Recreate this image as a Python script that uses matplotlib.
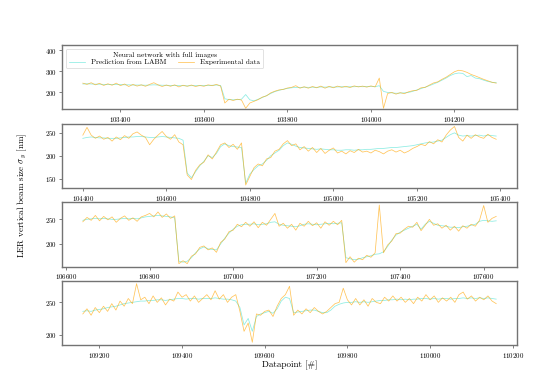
import numpy as np
from matplotlib import pyplot as plt
from matplotlib.ticker import MultipleLocator


# First datapoint of each run, one sample every 10 datapoints
start_points = [103310, 104400, 106640, 109160]
step = 10

# Run 1
pred_1 = [240, 241, 240, 239, 239, 238, 238, 237, 238, 237,
		236, 236, 235, 235, 235, 234, 235, 236, 235, 234,
		234, 233, 233, 232, 232, 231, 232, 232, 232, 233,
		233, 234, 235, 233, 170, 166, 165, 166, 168, 190,
		165, 160, 168, 176, 185, 195, 204, 210, 215, 219,
		222, 224, 223, 225, 224, 225, 224, 226, 225, 226,
		225, 226, 227, 226, 227, 227, 228, 227, 228, 228,
		227, 232, 205, 200, 198, 196, 197, 198, 200, 205,
		212, 218, 225, 232, 240, 248, 258, 268, 280, 288,
		292, 290, 275, 280, 268, 265, 258, 252, 248, 246]
exp_1 = [244, 238, 246, 236, 243, 233, 241, 234, 244, 232,
		240, 228, 238, 230, 236, 229, 238, 246, 236, 228,
		235, 229, 236, 226, 234, 229, 235, 228, 233, 229,
		236, 232, 238, 230, 150, 168, 162, 168, 164, 125,
		150, 158, 166, 178, 184, 198, 206, 212, 214, 221,
		224, 232, 220, 227, 220, 228, 222, 230, 220, 229,
		222, 230, 224, 229, 223, 231, 226, 230, 225, 231,
		226, 268, 125, 195, 200, 192, 199, 194, 203, 208,
		210, 222, 224, 235, 245, 250, 262, 272, 285, 298,
		305, 302, 295, 285, 278, 270, 262, 255, 248, 244]

# Run 2
pred_2 = [238, 240, 241, 240, 239, 239, 238, 238, 238, 239,
		240, 241, 241, 242, 242, 241, 240, 240, 241, 242,
		241, 240, 239, 238, 234, 162, 152, 165, 178, 188,
		200, 196, 205, 220, 226, 222, 220, 219, 218, 140,
		160, 170, 178, 182, 190, 200, 206, 212, 222, 228,
		225, 221, 218, 217, 216, 215, 214, 215, 214, 213,
		213, 212, 212, 213, 213, 212, 213, 213, 214, 214,
		215, 216, 216, 217, 218, 218, 219, 220, 221, 222,
		224, 226, 228, 229, 230, 232, 234, 240, 246, 250,
		245, 243, 244, 243, 244, 245, 243, 245, 244, 243]
exp_2 = [245, 262, 245, 238, 243, 236, 240, 232, 241, 235,
		244, 238, 248, 252, 245, 240, 224, 236, 245, 253,
		242, 236, 246, 230, 224, 158, 148, 168, 180, 186,
		202, 193, 208, 224, 228, 218, 225, 214, 228, 136,
		155, 174, 182, 178, 193, 196, 210, 214, 226, 233,
		222, 226, 213, 220, 210, 218, 207, 216, 205, 212,
		217, 206, 210, 204, 211, 207, 214, 208, 210, 206,
		212, 209, 204, 210, 213, 208, 212, 206, 210, 216,
		220, 225, 222, 231, 226, 235, 230, 245, 256, 264,
		240, 232, 245, 238, 246, 241, 238, 247, 240, 236]

# Run 3
pred_3 = [248, 250, 251, 252, 251, 252, 251, 250, 250, 251,
		252, 251, 252, 251, 253, 255, 256, 257, 258, 257,
		256, 255, 253, 165, 163, 165, 172, 182, 190, 194,
		190, 189, 188, 200, 212, 222, 230, 236, 239, 240,
		240, 241, 239, 240, 241, 244, 245, 240, 238, 237,
		236, 235, 237, 240, 241, 240, 239, 240, 241, 242,
		241, 242, 243, 172, 170, 168, 169, 172, 174, 176,
		179, 180, 184, 195, 208, 218, 224, 228, 232, 236,
		240, 230, 240, 246, 242, 238, 237, 236, 234, 234,
		233, 235, 236, 238, 240, 246, 248, 247, 246, 247]
exp_3 = [245, 254, 248, 258, 247, 256, 249, 255, 244, 252,
		257, 248, 253, 246, 255, 258, 262, 255, 265, 254,
		261, 252, 257, 160, 166, 160, 175, 180, 193, 196,
		188, 192, 183, 203, 210, 225, 228, 240, 235, 244,
		236, 245, 233, 244, 238, 250, 262, 236, 242, 232,
		240, 228, 242, 236, 246, 237, 243, 232, 245, 238,
		246, 239, 248, 162, 174, 163, 171, 168, 177, 173,
		182, 279, 182, 198, 206, 221, 222, 230, 236, 234,
		244, 227, 238, 250, 238, 241, 232, 238, 228, 236,
		226, 237, 232, 240, 236, 248, 278, 244, 252, 256]

# Run 4
pred_4 = [236, 237, 236, 238, 239, 240, 242, 243, 244, 246,
		248, 249, 250, 251, 252, 252, 253, 253, 254, 254,
		253, 254, 255, 256, 256, 255, 256, 256, 255, 256,
		256, 256, 257, 256, 255, 255, 254, 252, 242, 215,
		225, 205, 228, 232, 234, 236, 233, 240, 252, 258,
		256, 234, 235, 236, 237, 238, 238, 236, 234, 234,
		238, 244, 247, 249, 250, 250, 251, 250, 251, 250,
		251, 252, 253, 253, 254, 254, 255, 254, 255, 254,
		255, 255, 256, 256, 255, 256, 255, 256, 256, 255,
		256, 256, 257, 256, 257, 256, 257, 256, 257, 256,
		255]
exp_4 = [232, 240, 230, 242, 234, 244, 236, 248, 238, 252,
		244, 256, 248, 279, 254, 258, 248, 260, 250, 257,
		246, 255, 252, 266, 258, 262, 252, 260, 250, 256,
		262, 254, 268, 255, 262, 250, 258, 262, 236, 205,
		218, 188, 232, 230, 236, 238, 228, 244, 256, 262,
		275, 230, 238, 232, 240, 234, 242, 236, 232, 236,
		242, 248, 250, 272, 254, 246, 256, 246, 254, 244,
		256, 250, 248, 258, 252, 260, 252, 258, 250, 256,
		248, 258, 252, 262, 254, 260, 250, 257, 252, 258,
		250, 262, 266, 255, 260, 252, 258, 254, 260, 252,
		248]

predictions = [pred_1, pred_2, pred_3, pred_4]
experiments = [exp_1, exp_2, exp_3, exp_4]


def setup_style():

	plt.rcParams['font.family'] = ['cmr10', 'DejaVu Serif']
	plt.rcParams['mathtext.fontset'] = 'cm'
	plt.rcParams['axes.formatter.use_mathtext'] = True
	plt.rcParams['font.size'] = 5.5


def visualize_data(saving_path):

	setup_style()
	fig, axes = plt.subplots(nrows=4, ncols=1, figsize=(5.6, 3.87), dpi=100)
	fig.subplots_adjust(left=0.111, right=0.923, top=0.884, bottom=0.108, hspace=0.22)

	for i, ax in enumerate(axes):
		pred = predictions[i]
		exp = experiments[i]
		# Datapoint index of every sample
		x = start_points[i] + step * np.arange(len(pred))

		ax.plot(x, pred, color='turquoise', alpha=0.6, linewidth=0.55,
				label='Prediction from LABM')
		ax.plot(x, exp, color='orange', alpha=0.65, linewidth=0.55,
				label='Experimental data')

		ax.xaxis.set_major_locator(MultipleLocator(200))
		ax.tick_params(labelsize=5, length=2, width=0.5, color='0.3', pad=2)
		for spine in ax.spines.values():
			spine.set_edgecolor('0.45')
			spine.set_linewidth(1.0)

		if i == 0:
			ax.set_ylim(120, 425)
			ax.yaxis.set_major_locator(MultipleLocator(100))
			leg = ax.legend(loc='upper left', ncol=2, fontsize=5.3,
							title='Neural network with full images', title_fontsize=5.3,
							handlelength=2.2, borderpad=0.4, labelspacing=0.2,
							columnspacing=1.6, framealpha=0.8)
			leg.get_frame().set_linewidth(0.5)
		else:
			ax.yaxis.set_major_locator(MultipleLocator(50))

	axes[-1].set_xlabel(r'Datapoint [#]', fontsize=6.5, labelpad=1)
	fig.text(0.04, 0.496, r'LER vertical beam size $\sigma_y$ [nm]', rotation=90,
			 ha='center', va='center', fontsize=6.5)

	fig.savefig(saving_path, dpi=100)
	print("Saved the plot to {}.".format(saving_path))


if __name__ == '__main__':
	visualize_data('out.png')
